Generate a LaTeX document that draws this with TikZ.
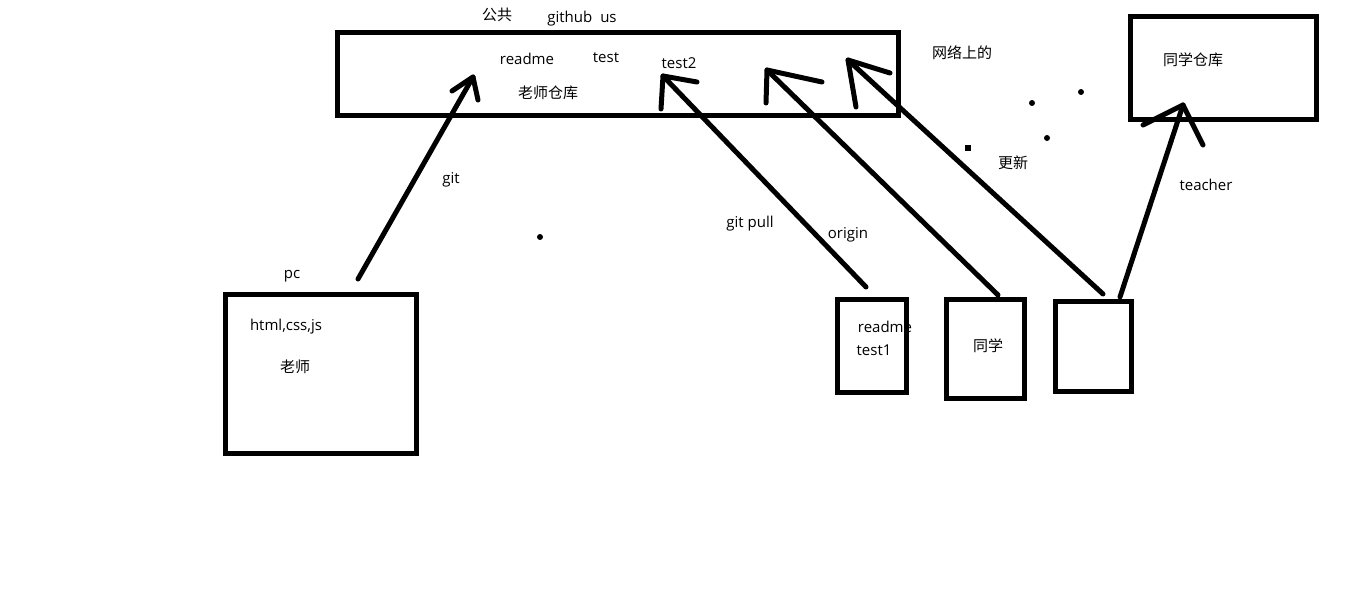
\documentclass[tikz,border=0pt]{standalone}
\usepackage{fontspec}
\setmainfont{Open Sans}
\newfontfamily\cjk{Noto Sans CJK SC}
\begin{document}
\begin{tikzpicture}[x=1pt,y=-1pt]
\tikzset{
  box/.style={draw, line width=5pt, inner sep=0pt, outer sep=0pt},
  stroke/.style={line width=5pt, line cap=round, line join=round},
  lbl/.style={inner sep=0pt, yshift=-2pt, font=\fontsize{15}{18}\selectfont},
  clbl/.style={inner sep=0pt, font=\cjk\fontsize{15}{18}\selectfont},
  dotmark/.style={circle, fill, inner sep=0pt, minimum size=6pt},
  sqmark/.style={rectangle, fill, inner sep=0pt, minimum size=6pt},
}
\useasboundingbox (0,0) rectangle (1360,591);
\fill[white] (0,0) rectangle (1360,591);

% boxes
\node[box, minimum width=561pt, minimum height=83pt] (hub) at (618,74) {};
\node[box, minimum width=186pt, minimum height=103pt] (repo) at (1223.5,68) {};
\node[box, minimum width=191pt, minimum height=159pt] (pc) at (321,374) {};
\node[box, minimum width=69pt, minimum height=93pt] (b1) at (872,346) {};
\node[box, minimum width=78pt, minimum height=99pt] (b2) at (985.5,349) {};
\node[box, minimum width=76pt, minimum height=90pt] (b3) at (1093.5,346.5) {};

% arrow coordinates
\coordinate (t1) at (358,279);  \coordinate (h1) at (473,77);
\coordinate (w1a) at (452,91);  \coordinate (w1b) at (478,100);
\coordinate (t2) at (866,287);  \coordinate (h2) at (663,76);
\coordinate (w2a) at (697,82);  \coordinate (w2b) at (661,109);
\coordinate (t3) at (998,295);  \coordinate (h3) at (767,70);
\coordinate (w3a) at (822,82);  \coordinate (w3b) at (766,103);
\coordinate (t4) at (1103,294); \coordinate (h4) at (848,60);
\coordinate (w4a) at (890,73);  \coordinate (w4b) at (856,107);
\coordinate (t5) at (1120,297); \coordinate (h5) at (1183,105);
\coordinate (w5a) at (1143,125); \coordinate (w5b) at (1203,145);

\foreach \i in {1,...,5}{
  \draw[stroke] (t\i) -- (h\i);
  \draw[stroke] (w\i a) -- (h\i) -- (w\i b);
}

% dots
\node[dotmark] (d1) at (540,237) {};
\node[dotmark] (d2) at (1032,103) {};
\node[dotmark] (d3) at (1081,92) {};
\node[dotmark] (d4) at (1047,138) {};
\node[sqmark] (d5) at (968,148) {};

% labels
\node[clbl] (gong) at (497,15) {公共};
\node[lbl] (gh) at (582,17) {github\hspace{8pt}us};
\node[lbl] (rd) at (527,57) {readme};
\node[lbl] (ts) at (606,56) {test};
\node[lbl] (ts2) at (679,61) {test2};
\node[clbl] (lscc) at (548,93) {老师仓库};
\node[clbl] (wl) at (962,53) {网络上的};
\node[clbl] (txcc) at (1193,60) {同学仓库};
\node[clbl] (gx) at (1013,163) {更新};
\node[lbl] (tc) at (1206,183) {teacher};
\node[lbl] (git) at (451,178) {git};
\node[lbl] (gp) at (750,222) {git pull};
\node[lbl] (og) at (848,233) {origin};
\node[lbl] (rd1) at (885,325) {readme};
\node[lbl] (t1l) at (874,348) {test1};
\node[clbl] (tx) at (988,346) {同学};
\node[lbl] (pcl) at (292,274) {pc};
\node[lbl] (hcj) at (286,325) {html,css,js};
\node[clbl] (ls) at (295,367) {老师};
\end{tikzpicture}
\end{document}
